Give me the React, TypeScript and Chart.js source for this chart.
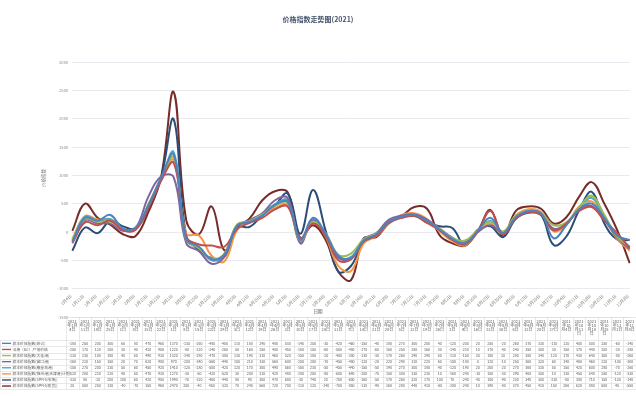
import React, { useEffect, useRef } from 'react';
import { Chart, registerables } from 'chart.js';

Chart.register(...registerables);

const chartTitle = '价格指数走势图(2021)';
const yAxisTitle = '价格指数';
const xAxisTitle = '日期';

const categories = [
  '2021年1月4日', '2021年1月11日', '2021年1月18日', '2021年1月25日',
  '2021年2月1日', '2021年2月8日', '2021年2月15日', '2021年2月22日',
  '2021年3月1日', '2021年3月8日', '2021年3月15日', '2021年3月22日', '2021年3月29日',
  '2021年4月5日', '2021年4月12日', '2021年4月19日', '2021年4月26日',
  '2021年5月3日', '2021年5月10日', '2021年5月17日', '2021年5月24日', '2021年5月31日',
  '2021年6月7日', '2021年6月14日', '2021年6月21日', '2021年6月28日',
  '2021年7月5日', '2021年7月12日', '2021年7月19日', '2021年7月26日',
  '2021年8月2日', '2021年8月9日', '2021年8月16日', '2021年8月23日', '2021年8月30日',
  '2021年9月6日', '2021年9月13日', '2021年9月20日', '2021年9月27日',
  '2021年10月4日', '2021年10月11日', '2021年10月18日', '2021年10月25日',
  '2021年11月1日', '2021年11月8日',
];

const seriesNames = [
  '样本价格指数(综合)',
  '沿海（BC）产地价格',
  '样本价格指数(大连港)',
  '样本价格指数(营口港)',
  '样本价格指数(秦皇岛港)',
  '样本价格指数(锦州港(天津港)计划)',
  '样本价格指数(SPFH(市场))',
  '样本价格指数(SPFH(现货))',
];

const seriesColors = ['#4F81BD', '#C0504D', '#9BBB59', '#8064A2', '#4BACC6', '#F79646', '#2C4D75', '#772C2A'];

const s1 = [-180, 250, 200, 300, 60, 80, 470, 960, 1370, -130, -260, -480, -400, 110, 180, 290, 480, 530, -140, 250, -30, -420, -460, -150, -40, 180, 270, 300, 200, 40, -120, -200, 20, 250, -20, 260, 370, 330, -110, 120, 400, 500, 250, -60, -140];
const s2 = [-200, 170, 120, 200, 30, 40, 420, 900, 1220, -80, -220, -240, -260, 50, 160, 250, 400, 450, -100, 150, -60, -500, -480, -170, -60, 160, 250, 280, 160, 30, -140, -220, 10, 370, -40, 240, 350, 300, 30, 150, 370, 440, 200, -20, -280];
const s3 = [-130, 230, 180, 180, 40, 50, 490, 930, 1320, -140, -290, -470, -380, 130, 190, 310, 460, 520, -150, 180, -20, -400, -380, -130, -30, 170, 260, 290, 190, 50, -110, -150, 30, 180, 10, 280, 380, 340, 120, 170, 430, 640, 300, -80, -260];
const s4 = [-160, 210, 150, 150, 20, 70, 620, 980, 970, -200, -340, -560, -440, 100, 210, 330, 560, 600, -200, 200, -70, -450, -480, -120, -20, 220, 290, 310, 220, 60, -100, -180, 0, 120, -10, 250, 360, 320, 60, 140, 400, 460, 220, -100, -300];
const s5 = [-150, 270, 200, 230, 50, 60, 450, 920, 1410, -120, -280, -500, -420, 120, 170, 300, 490, 560, -160, 230, -50, -450, -440, -150, -50, 190, 270, 300, 180, 40, -120, -190, 20, 200, -20, 270, 360, 330, 50, 150, 420, 600, 280, -70, -260];
const s6 = [-120, 280, 220, 220, 40, 50, 470, 930, 1270, -30, -60, -420, -520, 30, 200, 310, 420, 480, -180, 200, -80, -600, -690, -200, -70, 150, 300, 330, 230, 10, -160, -240, -10, 150, -30, 290, 400, 350, 10, 130, 450, 540, 250, -120, -330];
const s7 = [-330, 80, -20, 200, 100, 60, 420, 950, 1990, -70, -320, -460, -440, 80, 90, 300, 470, 680, -30, 740, 20, -700, -600, -160, -50, 170, 260, 320, 170, 100, 70, -240, 40, 100, -90, 230, 340, 300, -230, -80, 380, 710, 150, -130, -140];
const s8 = [20, 500, 250, 130, -40, -70, 350, 960, 2470, 200, -40, 450, -320, 70, 240, 560, 720, 700, -110, 120, -140, -700, -850, -110, -90, 160, 280, 440, 410, -60, -200, -240, 10, 390, -80, 370, 450, 410, 150, 260, 620, 880, 500, 40, -550];

const seriesValues = [s1, s2, s3, s4, s5, s6, s7, s8];

const yMin = -1500;
const yMax = 3000;
const yStep = 500;

const FONT = '"Noto Sans CJK SC", "Noto Sans", sans-serif';

function wrapChars(ctx: CanvasRenderingContext2D, text: string, maxW: number): string[] {
  const lines: string[] = [];
  let cur = '';
  for (const ch of Array.from(text)) {
    const test = cur + ch;
    if (cur && ctx.measureText(test).width > maxW) {
      lines.push(cur);
      cur = ch;
    } else {
      cur = test;
    }
  }
  if (cur) lines.push(cur);
  return lines;
}

const overlayPlugin = {
  id: 'overlay',
  afterDraw(chart: any) {
    const ctx: CanvasRenderingContext2D = chart.ctx;
    const xs = chart.scales.x;
    const area = chart.chartArea;
    const n = categories.length;
    const colW = xs.getPixelForValue(1) - xs.getPixelForValue(0);
    ctx.save();

    // title
    ctx.fillStyle = '#44546A';
    ctx.font = `bold 7px ${FONT}`;
    ctx.textAlign = 'center';
    ctx.textBaseline = 'middle';
    ctx.fillText(chartTitle, 318, 19);

    // y title
    ctx.save();
    ctx.translate(43, 178);
    ctx.rotate(-Math.PI / 2);
    ctx.font = `4.5px ${FONT}`;
    ctx.fillStyle = '#7F7F7F';
    ctx.fillText(yAxisTitle, 0, 0);
    ctx.restore();

    // x labels rotated
    ctx.font = `4.3px ${FONT}`;
    ctx.fillStyle = '#7F7F7F';
    for (let i = 0; i < n; i++) {
      const x = xs.getPixelForValue(i);
      const lbl = categories[i].replace('2021年', '');
      ctx.save();
      ctx.translate(x - 1.5, 295);
      ctx.rotate(-Math.PI / 4);
      ctx.textAlign = 'right';
      ctx.textBaseline = 'middle';
      ctx.fillText(lbl, 0, 0);
      ctx.restore();
    }

    // x title
    ctx.font = `4.5px ${FONT}`;
    ctx.fillStyle = '#44546A';
    ctx.textAlign = 'center';
    ctx.textBaseline = 'middle';
    ctx.fillText(xAxisTitle, 318, 311.5);

    // data table
    const tableTop = area.bottom;
    const headerBottom = 340.3;
    const rowH = 6.1;
    const nRows = seriesValues.length;
    const tableBottom = headerBottom + rowH * nRows;
    const left0 = xs.getPixelForValue(0) - colW / 2;
    const right0 = xs.getPixelForValue(n - 1) + colW / 2;

    ctx.strokeStyle = '#D9D9D9';
    ctx.lineWidth = 0.6;
    ctx.beginPath();
    for (let i = 0; i <= n; i++) {
      const x = Math.round(left0 + colW * i) + 0.5;
      ctx.moveTo(x, tableTop);
      ctx.lineTo(x, tableBottom);
    }
    ctx.moveTo(left0, tableTop + 0.5);
    ctx.lineTo(right0, tableTop + 0.5);
    for (let r = 0; r <= nRows; r++) {
      const y = Math.round(headerBottom + rowH * r) + 0.5;
      ctx.moveTo(0, y);
      ctx.lineTo(right0, y);
    }
    ctx.moveTo(0.5, headerBottom);
    ctx.lineTo(0.5, tableBottom);
    ctx.stroke();

    // headers
    ctx.font = `4px ${FONT}`;
    ctx.fillStyle = '#595959';
    ctx.textAlign = 'center';
    ctx.textBaseline = 'middle';
    for (let i = 0; i < n; i++) {
      const cx = xs.getPixelForValue(i);
      const lines = wrapChars(ctx, categories[i], colW - 1.5);
      lines.forEach((ln, k) => ctx.fillText(ln, cx, 321.5 + k * 4.1));
    }

    // rows
    for (let r = 0; r < nRows; r++) {
      const cy = headerBottom + rowH * r + rowH / 2;
      ctx.strokeStyle = seriesColors[r];
      ctx.lineWidth = 1.4;
      ctx.beginPath();
      ctx.moveTo(2, cy);
      ctx.lineTo(11, cy);
      ctx.stroke();
      ctx.fillStyle = '#595959';
      ctx.font = `3.8px ${FONT}`;
      ctx.textAlign = 'left';
      ctx.fillText(seriesNames[r], 12.5, cy);
      ctx.textAlign = 'center';
      ctx.font = `3.6px ${FONT}`;
      const vals = seriesValues[r];
      for (let i = 0; i < n; i++) {
        ctx.fillText(String(vals[i]), xs.getPixelForValue(i), cy);
      }
    }
    ctx.restore();
  },
};

export default function App() {
  const ref = useRef<HTMLCanvasElement>(null);
  useEffect(() => {
    if (!ref.current) return;
    const chart = new Chart(ref.current, {
      type: 'line',
      data: {
        labels: categories,
        datasets: seriesValues.map((vals, i) => ({
          label: seriesNames[i],
          data: vals,
          borderColor: seriesColors[i],
          backgroundColor: seriesColors[i],
          borderWidth: 2,
          pointRadius: 0,
          tension: 0.4,
          fill: false,
        })),
      },
      options: {
        animation: false,
        responsive: false,
        maintainAspectRatio: false,
        devicePixelRatio: 1,
        layout: { padding: { left: 0, right: 6.3, top: 62, bottom: 79 } },
        plugins: {
          legend: { display: false },
          tooltip: { enabled: false },
          title: { display: false },
        },
        scales: {
          x: { display: false, offset: false },
          y: {
            min: yMin,
            max: yMax,
            afterFit: (scale: any) => { scale.width = 72.3; },
            ticks: {
              stepSize: yStep,
              padding: 4,
              color: '#8C8C8C',
              font: { size: 4.2, family: FONT },
              callback: (v: any) => String(v),
            },
            grid: { color: '#E3E3EC', lineWidth: 0.8, drawTicks: false },
            border: { display: false },
          },
        },
      },
      plugins: [overlayPlugin],
    } as any);
    return () => chart.destroy();
  }, []);
  return (
    <div style={{ position: 'absolute', left: 0, top: 0, width: 636, height: 396, background: '#fff' }}>
      <canvas ref={ref} width={636} height={396} style={{ display: 'block', width: 636, height: 396 }} />
    </div>
  );
}
